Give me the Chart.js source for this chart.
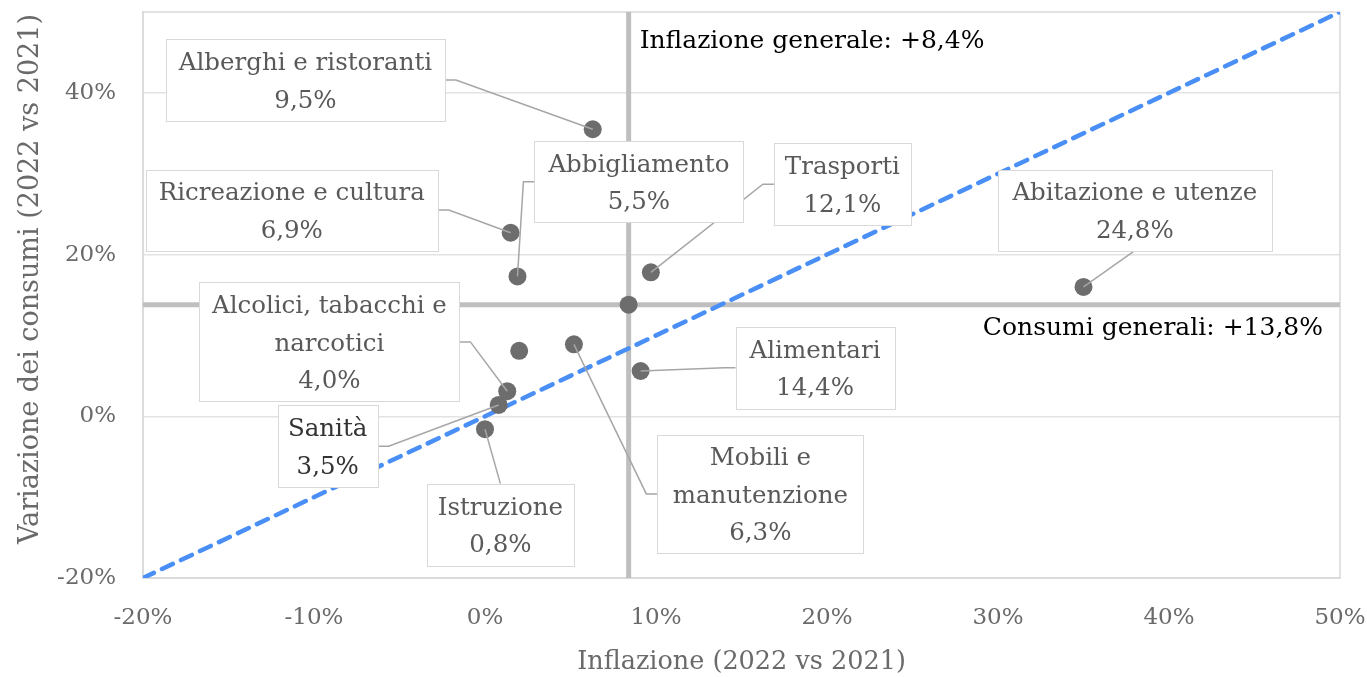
<!DOCTYPE html>
<html>
<head>
<meta charset="utf-8">
<script src="https://cdn.jsdelivr.net/npm/chart.js@4.4.0/dist/chart.umd.min.js"></script>
<style>
  html, body { margin: 0; padding: 0; background: #ffffff; }
</style>
</head>
<body>
<canvas id="chart" width="1367" height="677"></canvas>
<script>
// categories of consumption, with inflation (x) and change in consumption (y), 2022 vs 2021
const categories = ['Alberghi e ristoranti', 'Ricreazione e cultura', 'Abbigliamento', 'Trasporti',
                    'Abitazione e utenze', 'Altri beni e servizi', 'Mobili e manutenzione', 'Alimentari',
                    'Alcolici, tabacchi e narcotici', 'Sanità', 'Istruzione'];
const inflation   = [6.3, 1.5, 1.9, 9.7, 35.0, 2.0, 5.2, 9.1, 1.3, 0.8, 0.0];
const consumption = [35.5, 22.7, 17.3, 17.8, 16.0, 8.1, 8.9, 5.6, 3.1, 1.4, -1.6];
const weights     = ['9,5%', '6,9%', '5,5%', '12,1%', '24,8%', '', '6,3%', '14,4%', '4,0%', '3,5%', '0,8%'];

const overallInflation = 8.4;
const overallConsumption = 13.8;

const xTicks = [-20, -10, 0, 10, 20, 30, 40, 50];
const yTicks = [-20, 0, 20, 40];
const yMax = 50;

// callout boxes: centre in data units, size in pixels, side where the leader leaves the box
const labelLayout = [
    {x: -10.5, y: 41.6, w: 279, h: 82, side: 'right'},
    {x: -11.3, y: 25.5, w: 292, h: 81, side: 'right'},
    {x: 9.0,   y: 29.0, w: 209, h: 81, side: 'left'},
    {x: 20.9,  y: 28.7, w: 137, h: 82, side: 'left'},
    {x: 38.0,  y: 25.5, w: 274, h: 81, side: 'bottom'},
    null,
    {x: 16.1,  y: -9.6, w: 206, h: 118, side: 'left'},
    {x: 19.3,  y: 6.0,  w: 159, h: 82, side: 'left'},
    {x: -9.1,  y: 9.2,  w: 260, h: 119, side: 'right'},
    {x: -9.2,  y: -3.7, w: 100, h: 82, side: 'right', strong: true},
    {x: 0.9,   y: -13.4, w: 147, h: 82, side: 'top'}
];

const FONT = "'DejaVu Serif', 'Liberation Serif', serif";

function pct(v) {
    return v.toFixed(1).replace('.', ',') + '%';
}

function wrapText(ctx, text, maxWidth) {
    let words = text.split(' ');
    let lines = [];
    let line = '';
    for (let k = 0; k < words.length; k++) {
        let test = line ? line + ' ' + words[k] : words[k];
        if (line && ctx.measureText(test).width > maxWidth) {
            lines.push(line);
            line = words[k];
        } else {
            line = test;
        }
    }
    if (line) lines.push(line);
    return lines;
}

// drop the extra room chart.js keeps for edge tick labels
function fixScale(scale, size) {
    if (scale.isHorizontal()) {
        scale.height = size;
    } else {
        scale.width = size;
    }
    scale.paddingTop = 0;
    scale.paddingBottom = 0;
    scale.paddingLeft = 0;
    scale.paddingRight = 0;
}

const calloutPlugin = {
    id: 'callouts',
    beforeDatasetsDraw(chart) {
        const ctx = chart.ctx;
        const area = chart.chartArea;
        const x = chart.scales.x, y = chart.scales.y;
        ctx.save();
        // plot frame
        ctx.strokeStyle = '#d9d9d9';
        ctx.lineWidth = 1.5;
        ctx.strokeRect(area.left, area.top, area.right - area.left, area.bottom - area.top);
        // overall reference lines
        ctx.strokeStyle = '#bfbfbf';
        ctx.lineWidth = 5;
        let vx = x.getPixelForValue(overallInflation);
        ctx.beginPath();
        ctx.moveTo(vx, area.top);
        ctx.lineTo(vx, area.bottom);
        ctx.stroke();
        let hy = y.getPixelForValue(overallConsumption);
        ctx.beginPath();
        ctx.moveTo(area.left, hy);
        ctx.lineTo(area.right, hy);
        ctx.stroke();
        ctx.restore();
    },
    afterDatasetsDraw(chart) {
        const ctx = chart.ctx;
        const area = chart.chartArea;
        const x = chart.scales.x, y = chart.scales.y;
        ctx.save();

        // reference line captions
        ctx.fillStyle = '#000000';
        ctx.font = '25px ' + FONT;
        ctx.textBaseline = 'middle';
        ctx.textAlign = 'left';
        ctx.fillText('Inflazione generale: +' + pct(overallInflation),
                     x.getPixelForValue(overallInflation) + 11, area.top + 29);
        ctx.textAlign = 'right';
        ctx.fillText('Consumi generali: +' + pct(overallConsumption),
                     area.right - 17, y.getPixelForValue(overallConsumption) + 24);

        // leader lines
        ctx.strokeStyle = '#a6a6a6';
        ctx.lineWidth = 1.5;
        for (let i = 0; i < labelLayout.length; i++) {
            let box = labelLayout[i];
            if (!box) continue;
            let cx = x.getPixelForValue(box.x), cy = y.getPixelForValue(box.y);
            let px = x.getPixelForValue(inflation[i]), py = y.getPixelForValue(consumption[i]);
            ctx.beginPath();
            if (box.side === 'right') {
                ctx.moveTo(cx + box.w / 2, cy);
                ctx.lineTo(cx + box.w / 2 + 11, cy);
            } else if (box.side === 'left') {
                ctx.moveTo(cx - box.w / 2, cy);
                ctx.lineTo(cx - box.w / 2 - 11, cy);
            } else if (box.side === 'top') {
                ctx.moveTo(cx, cy - box.h / 2);
            } else {
                ctx.moveTo(cx, cy + box.h / 2);
            }
            ctx.lineTo(px, py);
            ctx.stroke();
        }

        // boxes with text
        ctx.textAlign = 'center';
        ctx.textBaseline = 'middle';
        for (let i = 0; i < labelLayout.length; i++) {
            let box = labelLayout[i];
            if (!box) continue;
            let cx = x.getPixelForValue(box.x), cy = y.getPixelForValue(box.y);
            let left = Math.round(cx - box.w / 2) + 0.5, top = Math.round(cy - box.h / 2) + 0.5;
            ctx.fillStyle = '#ffffff';
            ctx.fillRect(left, top, box.w, box.h);
            ctx.strokeStyle = '#d9d9d9';
            ctx.lineWidth = 1;
            ctx.strokeRect(left, top, box.w, box.h);

            ctx.font = '24.5px ' + FONT;
            let lines = wrapText(ctx, categories[i], box.w - 12);
            lines.push(weights[i]);
            ctx.fillStyle = box.strong ? '#333333' : '#595959';
            for (let k = 0; k < lines.length; k++) {
                let ly = cy + 2.5 + (k - (lines.length - 1) / 2) * 37.5;
                ctx.fillText(lines[k], cx, ly);
            }
        }
        ctx.restore();
    },
    afterDraw(chart) {
        const ctx = chart.ctx;
        const area = chart.chartArea;
        ctx.save();
        ctx.fillStyle = '#6a6a6a';
        ctx.textAlign = 'center';
        ctx.textBaseline = 'middle';
        ctx.font = '25.5px ' + FONT;
        ctx.fillText('Inflazione (2022 vs 2021)', (area.left + area.right) / 2, 662);
        ctx.font = '27px ' + FONT;
        ctx.translate(31, 279);
        ctx.rotate(-Math.PI / 2);
        ctx.fillText('Variazione dei consumi (2022 vs 2021)', 0, 0);
        ctx.restore();
    }
};

window.onload = initialize;

function initialize() {
    let points = [];
    for (let k = 0; k < categories.length; k++) {
        points.push({x: inflation[k], y: consumption[k]});
    }
    points.push({x: overallInflation, y: overallConsumption});

    const data = {
        datasets: [{
            type: 'scatter',
            label: 'Categorie',
            data: points,
            backgroundColor: '#6d6d6d',
            borderWidth: 0,
            pointRadius: 9,
            pointHoverRadius: 9
        }, {
            type: 'line',
            label: 'Bisettrice',
            data: [{x: xTicks[0], y: xTicks[0]}, {x: yMax, y: yMax}],
            borderColor: '#4a8ff5',
            borderWidth: 4.5,
            borderDash: [12, 9],
            borderCapStyle: 'round',
            pointRadius: 0,
            fill: false
        }]
    };

    const config = {
        type: 'scatter',
        data: data,
        options: {
            responsive: false,
            devicePixelRatio: 1,
            animation: false,
            layout: { padding: { left: 0, right: 27, top: 12, bottom: 0 } },
            plugins: {
                legend: { display: false },
                tooltip: { enabled: false }
            },
            scales: {
                x: {
                    type: 'linear',
                    min: xTicks[0],
                    max: xTicks[xTicks.length - 1],
                    afterBuildTicks: (scale) => { scale.ticks = xTicks.map(v => ({value: v})); },
                    afterFit: (scale) => fixScale(scale, 99),
                    grid: { display: false, drawTicks: false },
                    border: { display: true, color: '#d9d9d9', width: 1.5 },
                    ticks: {
                        padding: 26,
                        color: '#6a6a6a',
                        font: { family: FONT, size: 23 },
                        callback: (v) => v + '%'
                    }
                },
                y: {
                    type: 'linear',
                    min: yTicks[0],
                    max: yMax,
                    afterBuildTicks: (scale) => { scale.ticks = yTicks.map(v => ({value: v})); },
                    afterFit: (scale) => fixScale(scale, 143),
                    grid: { color: '#e3e3e3', lineWidth: 1.5, drawTicks: false },
                    border: { display: true, color: '#d9d9d9', width: 1.5 },
                    ticks: {
                        padding: 27,
                        color: '#6a6a6a',
                        font: { family: FONT, size: 23 },
                        callback: (v) => v + '%'
                    }
                }
            }
        },
        plugins: [calloutPlugin]
    };

    new Chart(document.getElementById('chart'), config);
}
</script>
</body>
</html>
